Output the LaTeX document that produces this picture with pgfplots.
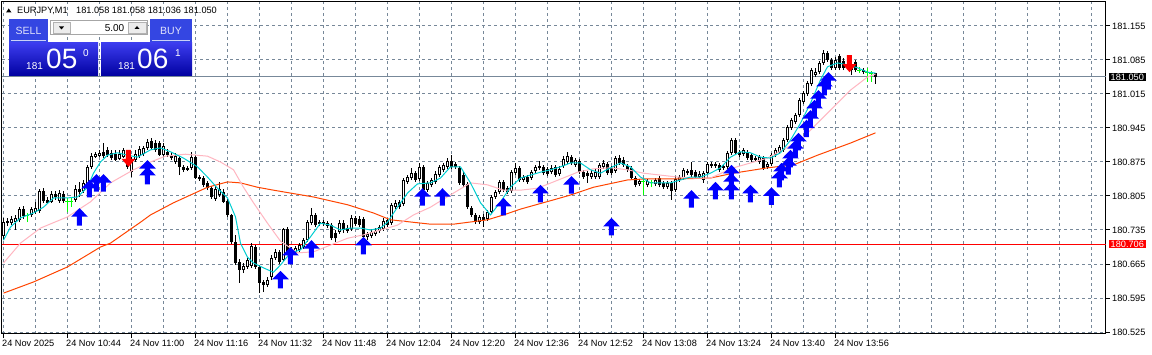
\documentclass[border=0pt]{standalone}
\usepackage{fontspec}
\setmainfont{Liberation Sans}
\usepackage{pgfplots}
\usepackage{pgfplotstable}
\pgfplotsset{compat=1.18}

\definecolor{lsg}{RGB}{119,136,153}
\definecolor{macyan}{RGB}{0,206,209}
\definecolor{mapink}{RGB}{255,182,193}
\definecolor{maorange}{RGB}{255,69,0}
\definecolor{dojigreen}{RGB}{0,255,0}
\definecolor{arrblue}{RGB}{0,0,255}
\definecolor{btnblue}{RGB}{52,70,226}
\definecolor{boxtop}{RGB}{60,60,238}
\definecolor{boxbot}{RGB}{0,0,160}

\newcommand\tf{\fontsize{9.2pt}{11pt}\selectfont}

\pgfdeclareplotmark{uparr}{%
  \pgfpathmoveto{\pgfqpoint{0pt}{0pt}}%
  \pgfpathlineto{\pgfqpoint{8.3pt}{-8.5pt}}%
  \pgfpathlineto{\pgfqpoint{2.5pt}{-8.5pt}}%
  \pgfpathlineto{\pgfqpoint{2.5pt}{-17.5pt}}%
  \pgfpathlineto{\pgfqpoint{-2.5pt}{-17.5pt}}%
  \pgfpathlineto{\pgfqpoint{-2.5pt}{-8.5pt}}%
  \pgfpathlineto{\pgfqpoint{-8.3pt}{-8.5pt}}%
  \pgfpathclose\pgfusepathqfill}
\pgfdeclareplotmark{dnarr}{%
  \pgfpathmoveto{\pgfqpoint{0pt}{0pt}}%
  \pgfpathlineto{\pgfqpoint{7pt}{8pt}}%
  \pgfpathlineto{\pgfqpoint{2.5pt}{8pt}}%
  \pgfpathlineto{\pgfqpoint{2.5pt}{17pt}}%
  \pgfpathlineto{\pgfqpoint{-2.5pt}{17pt}}%
  \pgfpathlineto{\pgfqpoint{-2.5pt}{8pt}}%
  \pgfpathlineto{\pgfqpoint{-7pt}{8pt}}%
  \pgfpathclose\pgfusepathqfill}

\pgfplotsset{candle/.style={draw=none, no markers, forget plot,
  error bars/.cd, y dir=plus, y explicit, error mark=none}}

% bullish candles: bar index, open, high, low, close
\pgfplotstableread{
t o h l c
0 180.723 180.760 180.714 180.751
2 180.749 180.764 180.745 180.758
3 180.751 180.766 180.735 180.760
4 180.756 180.782 180.751 180.778
7 180.766 180.782 180.762 180.778
8 180.772 180.793 180.768 180.780
9 180.774 180.819 180.770 180.815
12 180.793 180.815 180.791 180.809
14 180.795 180.817 180.791 180.811
18 180.797 180.828 180.793 180.819
20 180.815 180.838 180.811 180.832
21 180.830 180.869 180.826 180.865
22 180.865 180.894 180.861 180.887
23 180.885 180.896 180.883 180.891
24 180.887 180.900 180.885 180.894
29 180.881 180.900 180.879 180.891
30 180.885 180.904 180.883 180.900
32 180.854 180.885 180.844 180.881
33 180.879 180.900 180.875 180.891
34 180.887 180.908 180.883 180.902
35 180.891 180.908 180.887 180.904
36 180.904 180.922 180.900 180.916
40 180.889 180.914 180.885 180.908
43 180.875 180.894 180.871 180.887
47 180.863 180.896 180.859 180.885
53 180.799 180.826 180.795 180.819
54 180.807 180.834 180.803 180.819
60 180.653 180.667 180.646 180.661
61 180.659 180.677 180.655 180.673
62 180.661 180.708 180.657 180.702
66 180.622 180.638 180.618 180.632
67 180.638 180.684 180.632 180.677
68 180.677 180.696 180.673 180.690
70 180.673 180.739 180.669 180.737
73 180.688 180.702 180.684 180.698
74 180.694 180.708 180.690 180.704
75 180.700 180.718 180.696 180.714
76 180.714 180.756 180.710 180.751
77 180.749 180.780 180.745 180.766
79 180.747 180.756 180.743 180.751
84 180.731 180.756 180.727 180.749
87 180.737 180.766 180.733 180.760
91 180.721 180.731 180.714 180.727
92 180.723 180.737 180.718 180.731
93 180.727 180.739 180.723 180.733
94 180.733 180.745 180.729 180.741
95 180.737 180.760 180.733 180.754
97 180.749 180.791 180.745 180.787
98 180.782 180.797 180.778 180.791
100 180.789 180.842 180.784 180.838
101 180.834 180.848 180.830 180.844
102 180.842 180.863 180.838 180.852
104 180.840 180.873 180.836 180.865
106 180.817 180.836 180.813 180.832
107 180.828 180.842 180.823 180.838
108 180.834 180.856 180.830 180.850
109 180.848 180.869 180.844 180.865
110 180.859 180.873 180.854 180.869
111 180.865 180.883 180.861 180.877
119 180.751 180.766 180.747 180.762
121 180.758 180.776 180.754 180.772
122 180.772 180.807 180.768 180.803
123 180.803 180.817 180.799 180.813
124 180.813 180.838 180.809 180.834
127 180.815 180.859 180.811 180.854
128 180.852 180.873 180.848 180.863
130 180.838 180.848 180.834 180.844
132 180.842 180.859 180.838 180.854
133 180.856 180.869 180.852 180.865
137 180.854 180.869 180.850 180.863
139 180.850 180.867 180.846 180.861
140 180.867 180.887 180.863 180.881
141 180.875 180.896 180.871 180.887
143 180.869 180.883 180.865 180.879
147 180.844 180.859 180.840 180.852
148 180.844 180.861 180.840 180.854
149 180.844 180.873 180.840 180.869
150 180.865 180.879 180.861 180.873
153 180.856 180.887 180.852 180.883
159 180.830 180.840 180.826 180.836
161 180.828 180.840 180.823 180.836
163 180.830 180.842 180.826 180.838
166 180.823 180.836 180.819 180.832
168 180.817 180.846 180.813 180.840
169 180.838 180.848 180.834 180.844
170 180.842 180.863 180.838 180.859
171 180.852 180.861 180.848 180.856
174 180.844 180.856 180.840 180.850
175 180.838 180.856 180.832 180.852
176 180.852 180.875 180.848 180.871
178 180.867 180.875 180.863 180.871
180 180.863 180.871 180.859 180.867
181 180.865 180.898 180.861 180.894
182 180.894 180.924 180.889 180.920
185 180.891 180.904 180.887 180.900
188 180.879 180.887 180.875 180.883
189 180.875 180.889 180.871 180.885
191 180.865 180.875 180.861 180.871
192 180.871 180.894 180.867 180.889
193 180.889 180.904 180.885 180.900
194 180.896 180.910 180.891 180.906
195 180.900 180.924 180.896 180.920
196 180.920 180.951 180.916 180.947
197 180.945 180.966 180.941 180.962
198 180.957 180.976 180.953 180.972
199 180.972 181.007 180.968 181.003
200 180.999 181.021 180.994 181.017
201 181.015 181.042 181.011 181.038
202 181.036 181.069 181.031 181.064
203 181.054 181.069 181.050 181.060
204 181.060 181.083 181.056 181.079
205 181.079 181.106 181.075 181.099
208 181.069 181.091 181.064 181.085
211 181.071 181.081 181.066 181.077
212 181.064 181.081 181.054 181.077
}\bull

% bearish candles
\pgfplotstableread{
t o h l c
1 180.754 180.760 180.743 180.749
5 180.778 180.784 180.758 180.764
10 180.815 180.821 180.791 180.795
11 180.797 180.803 180.789 180.791
13 180.809 180.815 180.797 180.803
15 180.809 180.815 180.791 180.795
19 180.819 180.834 180.803 180.813
25 180.896 180.914 180.883 180.887
26 180.900 180.906 180.885 180.889
27 180.894 180.900 180.879 180.883
28 180.891 180.900 180.877 180.879
31 180.898 180.900 180.861 180.865
37 180.918 180.924 180.900 180.904
38 180.914 180.920 180.896 180.900
39 180.914 180.918 180.887 180.889
41 180.896 180.902 180.885 180.889
42 180.889 180.896 180.879 180.883
44 180.883 180.887 180.848 180.865
45 180.865 180.869 180.854 180.859
46 180.863 180.867 180.856 180.859
48 180.885 180.889 180.840 180.842
49 180.844 180.848 180.836 180.840
50 180.842 180.846 180.823 180.828
51 180.832 180.836 180.817 180.821
52 180.821 180.826 180.799 180.803
55 180.813 180.819 180.791 180.793
56 180.795 180.799 180.762 180.766
57 180.766 180.768 180.706 180.710
58 180.710 180.725 180.663 180.667
59 180.669 180.675 180.626 180.653
63 180.700 180.704 180.655 180.659
64 180.659 180.663 180.605 180.626
65 180.628 180.632 180.607 180.622
69 180.690 180.694 180.665 180.669
71 180.737 180.741 180.686 180.690
72 180.694 180.700 180.679 180.686
78 180.766 180.770 180.741 180.745
80 180.751 180.756 180.743 180.747
81 180.749 180.754 180.739 180.743
82 180.745 180.749 180.714 180.718
83 180.729 180.735 180.710 180.718
85 180.749 180.756 180.729 180.735
86 180.739 180.745 180.729 180.733
88 180.760 180.764 180.743 180.747
89 180.758 180.764 180.741 180.745
90 180.758 180.762 180.716 180.721
96 180.756 180.760 180.741 180.745
99 180.793 180.797 180.778 180.782
103 180.852 180.856 180.834 180.838
105 180.865 180.869 180.813 180.817
112 180.877 180.889 180.861 180.865
113 180.871 180.875 180.861 180.865
114 180.863 180.867 180.828 180.832
115 180.848 180.854 180.823 180.828
116 180.830 180.834 180.778 180.782
117 180.780 180.784 180.762 180.766
118 180.766 180.770 180.747 180.751
120 180.762 180.768 180.741 180.756
125 180.834 180.838 180.813 180.817
126 180.821 180.826 180.809 180.813
129 180.863 180.867 180.834 180.838
131 180.844 180.848 180.830 180.834
134 180.867 180.877 180.859 180.863
135 180.865 180.869 180.848 180.852
136 180.861 180.865 180.846 180.850
138 180.865 180.869 180.844 180.848
142 180.885 180.889 180.869 180.873
144 180.877 180.881 180.850 180.854
145 180.854 180.859 180.840 180.844
146 180.852 180.856 180.832 180.846
151 180.871 180.875 180.848 180.852
152 180.863 180.867 180.848 180.852
154 180.883 180.889 180.869 180.873
155 180.879 180.885 180.865 180.869
156 180.867 180.871 180.854 180.859
157 180.863 180.867 180.838 180.842
158 180.842 180.846 180.823 180.828
164 180.842 180.846 180.823 180.828
165 180.832 180.836 180.819 180.823
167 180.832 180.836 180.797 180.815
172 180.859 180.875 180.844 180.848
173 180.854 180.859 180.840 180.844
177 180.871 180.875 180.863 180.867
179 180.869 180.873 180.854 180.859
183 180.920 180.924 180.889 180.894
184 180.896 180.900 180.885 180.889
186 180.896 180.900 180.879 180.883
187 180.889 180.894 180.875 180.879
190 180.883 180.887 180.859 180.863
206 181.099 181.104 181.081 181.085
207 181.085 181.089 181.064 181.069
209 181.093 181.097 181.064 181.069
210 181.083 181.089 181.064 181.069
213 181.081 181.085 181.060 181.064
215 181.064 181.069 181.056 181.060
218 181.058 181.058 181.036 181.050
}\bear

% doji candles (open = close)
\pgfplotstableread{
t p h l
6 180.764 180.770 180.751
16 180.793 180.801 180.772
17 180.793 180.801 180.782
160 180.834 180.842 180.807
162 180.832 180.838 180.823
214 181.064 181.071 181.058
216 181.060 181.069 181.040
217 181.058 181.062 181.040
}\doji

% buy signal arrows (tip price)
\pgfplotstableread{
t p
19 180.780
21.5 180.838
23.25 180.850
25 180.850
36 180.879
36 180.865
69.25 180.651
71.75 180.700
77 180.714
90 180.721
104.75 180.821
109.75 180.821
125 180.801
134.25 180.828
142 180.846
152 180.760
172 180.817
178 180.834
182 180.869
182 180.852
182 180.834
186.75 180.828
192 180.823
194 180.859
194.5 180.873
196.25 180.885
196.75 180.900
198 180.920
198.75 180.935
200.75 180.962
201.75 180.982
202.75 181.003
203.75 181.023
205.25 181.048
206.25 181.060
}\buyarr

\pgfplotstableread{
t p
31.25 180.865
211.5 181.060
}\sellarr

\begin{document}
\begin{tikzpicture}
\fill[white] (0,0) rectangle (1152pt,355pt);
\begin{axis}[
  at={(2pt,21pt)}, anchor=south west,
  scale only axis, width=1104pt, height=332pt,
  xmin=-0.375, xmax=275.625,
  ymin=180.5209, ymax=181.2044,
  clip=false,
  axis line style={black, line width=1pt},
  tick style={black, line width=1pt},
  tick align=outside,
  major tick length=4pt,
  minor tick length=0pt,
  xtick={0,16,...,208},
  xticklabels={24 Nov 2025, 24 Nov 10:44, 24 Nov 11:00, 24 Nov 11:16, 24 Nov 11:32, 24 Nov 11:48, 24 Nov 12:04, 24 Nov 12:20, 24 Nov 12:36, 24 Nov 12:52, 24 Nov 13:08, 24 Nov 13:24, 24 Nov 13:40, 24 Nov 13:56},
  minor xtick={0,8,...,272},
  xminorgrids=true, xmajorgrids=false,
  ymajorgrids=true,
  minor grid style={lsg, line width=1pt, dash pattern=on 3pt off 3pt},
  major grid style={lsg, line width=1pt, dash pattern=on 3pt off 3pt},
  xtick pos=left, ytick pos=right,
  yticklabel pos=right,
  ytick={180.525,180.595,180.665,180.735,180.805,180.875,180.945,181.015,181.085,181.155},
  yticklabels={180.525,180.595,180.665,180.735,180.805,180.875,180.945,181.015,181.085,181.155},
  xticklabel style={anchor=north west, inner sep=0pt, xshift=-1.5pt, yshift=-2pt},
  yticklabel style={anchor=west, inner sep=0pt, xshift=2pt},
  ticklabel style={font=\tf},
]
% horizontal price lines
\addplot[red, line width=1pt, mark=none, forget plot] coordinates {(-0.375,180.706) (275.625,180.706)};
\addplot[lsg, line width=1pt, mark=none, forget plot] coordinates {(-0.375,181.050) (275.625,181.050)};

% sell signal arrows (behind candles)
\addplot[only marks, mark=dnarr, color=red, mark options={fill=red, draw=none}, forget plot] table[x=t, y=p] {\sellarr};

% wicks
\addplot[candle, error bar style={draw=black, line width=1pt, solid}]
  table[x=t, y=l, y error expr={\thisrow{h}-\thisrow{l}}] {\bull};
\addplot[candle, error bar style={draw=black, line width=1pt, solid}]
  table[x=t, y=l, y error expr={\thisrow{h}-\thisrow{l}}] {\bear};
\addplot[candle, error bar style={draw=dojigreen, line width=1pt, solid}]
  table[x=t, y=l, y error expr={\thisrow{h}-\thisrow{l}}] {\doji};
\addplot[draw=none, no markers, forget plot, error bars/.cd, x dir=both, x explicit, error mark=none, error bar style={draw=dojigreen, line width=1pt, solid}]
  table[x=t, y=p, x error expr={0.5}] {\doji};
% bodies
\addplot[candle, error bar style={draw=black, line width=3pt, solid}]
  table[x=t, y=o, y error expr={\thisrow{c}-\thisrow{o}}] {\bull};
\addplot[candle, error bar style={draw=white, line width=1pt, solid}]
  table[x=t, y expr={\thisrow{o}+0.00206}, y error expr={max(\thisrow{c}-\thisrow{o}-0.00412,0)}] {\bull};
\addplot[candle, error bar style={draw=black, line width=3pt, solid}]
  table[x=t, y=c, y error expr={\thisrow{o}-\thisrow{c}}] {\bear};

% moving averages
\addplot[maorange, line width=1pt, mark=none] coordinates {
(0,180.605) (7.5,180.628) (16,180.659) (24.25,180.700) (26.75,180.708) (34.25,180.751) (36.75,180.766) (42.5,180.791) (46.75,180.807) (51,180.823) (56,180.834) (59.25,180.832) (63.5,180.823) (67.5,180.817) (71.75,180.811) (77.5,180.803) (86,180.787) (92.5,180.770) (96.75,180.756) (106.75,180.747) (112.5,180.747) (121,180.756) (125,180.766) (129.25,180.778) (137.5,180.797) (141.75,180.807) (147.5,180.823) (156,180.838) (160,180.840) (168.5,180.840) (176.75,180.842) (182.5,180.852) (191,180.863) (197.5,180.869) (203.5,180.889) (211.75,180.914) (218,180.935)};
\addplot[mapink, line width=1pt, mark=none] coordinates {
(0,180.667) (4.25,180.708) (9.25,180.739) (16,180.762) (21.75,180.793) (26.75,180.832) (32.5,180.859) (36.75,180.875) (40.5,180.887) (45.5,180.891) (51,180.887) (54.25,180.875) (57.5,180.859) (60,180.823) (62.5,180.791) (66,180.749) (69.25,180.712) (71.75,180.698) (73.5,180.688) (77.5,180.690) (81.75,180.704) (86,180.718) (90,180.725) (94.25,180.735) (98.5,180.745) (102.5,180.766) (106.75,180.782) (108.5,180.791) (112.5,180.811) (116.75,180.832) (121,180.828) (125,180.817) (129.25,180.817) (133.5,180.821) (137.5,180.834) (141.75,180.848) (143.5,180.854) (147.5,180.861) (151.75,180.863) (156,180.859) (160,180.852) (164.25,180.848) (168.5,180.844) (172.5,180.842) (176.75,180.842) (182.5,180.863) (191,180.883) (199.25,180.920) (203.5,180.955) (207.5,180.988) (211.75,181.023) (216,181.050) (218,181.056)};
\addplot[macyan, line width=1pt, mark=none] coordinates {
(0,180.714) (1.75,180.741) (4.25,180.760) (7.5,180.770) (10,180.782) (12.5,180.801) (16,180.801) (18.5,180.803) (21,180.823) (22.5,180.852) (24.25,180.875) (26,180.889) (28.5,180.894) (31,180.889) (33.5,180.885) (36.75,180.900) (39.25,180.904) (41.75,180.896) (45,180.883) (48.5,180.865) (51,180.844) (53.5,180.821) (56,180.801) (58,180.762) (59.25,180.708) (61,180.679) (62.5,180.667) (65,180.657) (67.5,180.648) (69.25,180.663) (71.75,180.688) (74.25,180.694) (76.75,180.721) (79.25,180.749) (81.75,180.745) (84.25,180.735) (86.75,180.739) (89.25,180.739) (91.75,180.735) (94.25,180.739) (96,180.751) (98.5,180.782) (101,180.811) (103.5,180.830) (106.75,180.832) (109.25,180.842) (111.75,180.865) (114.25,180.865) (116.75,180.832) (119.25,180.791) (121.75,180.766) (124.25,180.793) (126.75,180.823) (129.25,180.842) (131.75,180.848) (134.25,180.854) (136.75,180.859) (139.25,180.865) (141.75,180.873) (144.25,180.873) (146.75,180.859) (149.25,180.852) (151.75,180.863) (154.25,180.873) (156.75,180.865) (159.25,180.844) (161.75,180.832) (164.25,180.832) (166.75,180.832) (169.25,180.838) (171.75,180.844) (174.25,180.844) (176.75,180.852) (179.25,180.863) (181.75,180.885) (184.25,180.896) (186.75,180.894) (189.25,180.885) (191.75,180.883) (194.25,180.894) (196.75,180.920) (199.25,180.955) (201.75,180.996) (204.25,181.044) (206,181.071) (208.5,181.079) (211,181.075) (213.5,181.069) (216,181.060) (218,181.058)};

% buy signal arrows
\addplot[only marks, mark=uparr, color=arrblue, mark options={fill=arrblue, draw=none}, forget plot] table[x=t, y=p] {\buyarr};

% price labels on the scale
\node[fill=black, text=white, font=\tf, anchor=west, inner xsep=2pt, inner ysep=1pt] at (axis cs:275.625,181.050) [xshift=2.5pt] {181.050};
\node[fill=red, text=white, font=\tf, anchor=west, inner xsep=2pt, inner ysep=1pt] at (axis cs:275.625,180.706) [xshift=2.5pt] {180.706};
\end{axis}

% header text and one-click trading panel (image pixel coordinates)
\begin{scope}[x=1pt, y=-1pt, shift={(0pt,355pt)}]
  \fill[black] (6,12.5) -- (11.5,12.5) -- (8.75,8.5) -- cycle;
  \node[anchor=base west, inner sep=0pt, font=\tf] at (17,13.7) {EURJPY,M1};
  \node[anchor=base west, inner sep=0pt, font=\tf] at (76,13.7) {181.058 181.058 181.036 181.050};
  % SELL button
  \fill[btnblue] (9,19.5) rectangle (48,42);
  \draw[white!75!btnblue, line width=1pt] (11,40.5) -- (46,40.5);
  \node[text=white!85!btnblue, font=\fontsize{10.5pt}{12pt}\selectfont, inner sep=0pt] at (28.5,30.5) {SELL};
  % BUY button
  \fill[btnblue] (150,19.5) rectangle (192,42);
  \draw[white!75!btnblue, line width=1pt] (152,40.5) -- (190,40.5);
  \node[text=white!85!btnblue, font=\fontsize{10.5pt}{12pt}\selectfont, inner sep=0pt] at (171,30.5) {BUY};
  % volume box
  \fill[white] (50,19.5) rectangle (148,35);
  \draw[gray!70, line width=0.6pt] (50.5,20) rectangle (147.5,34.5);
  \fill[gray!15] (53,22) rectangle (70,33);
  \draw[gray!60, line width=0.5pt] (53,22) rectangle (70,33);
  \fill[black] (59,26.5) -- (64,26.5) -- (61.5,29.5) -- cycle;
  \fill[gray!15] (128,22) rectangle (146,33);
  \draw[gray!60, line width=0.5pt] (128,22) rectangle (146,33);
  \fill[black] (134.5,29) -- (139.5,29) -- (137,26) -- cycle;
  \node[anchor=base east, inner sep=0pt, font=\fontsize{10pt}{12pt}\selectfont] at (124.5,32) {5.00};
  % price boxes
  \shade[top color=boxtop, bottom color=boxbot] (9,43) rectangle (98,76);
  \shade[top color=boxtop, bottom color=boxbot] (101,43) rectangle (192,76);
  \node[anchor=base west, inner sep=0pt, text=white, font=\fontsize{10pt}{12pt}\selectfont] at (26,70) {181};
  \node[anchor=base west, inner sep=0pt, text=white, font=\fontsize{28pt}{30pt}\selectfont] at (46,69) {05};
  \node[anchor=base west, inner sep=0pt, text=white, font=\fontsize{10pt}{12pt}\selectfont] at (83,57) {0};
  \node[anchor=base west, inner sep=0pt, text=white, font=\fontsize{10pt}{12pt}\selectfont] at (118,70) {181};
  \node[anchor=base west, inner sep=0pt, text=white, font=\fontsize{28pt}{30pt}\selectfont] at (137,69) {06};
  \node[anchor=base west, inner sep=0pt, text=white, font=\fontsize{10pt}{12pt}\selectfont] at (175,57) {1};
\end{scope}
\pgfresetboundingbox
\useasboundingbox (0,0) rectangle (1152pt,355pt);
\end{tikzpicture}
\end{document}
